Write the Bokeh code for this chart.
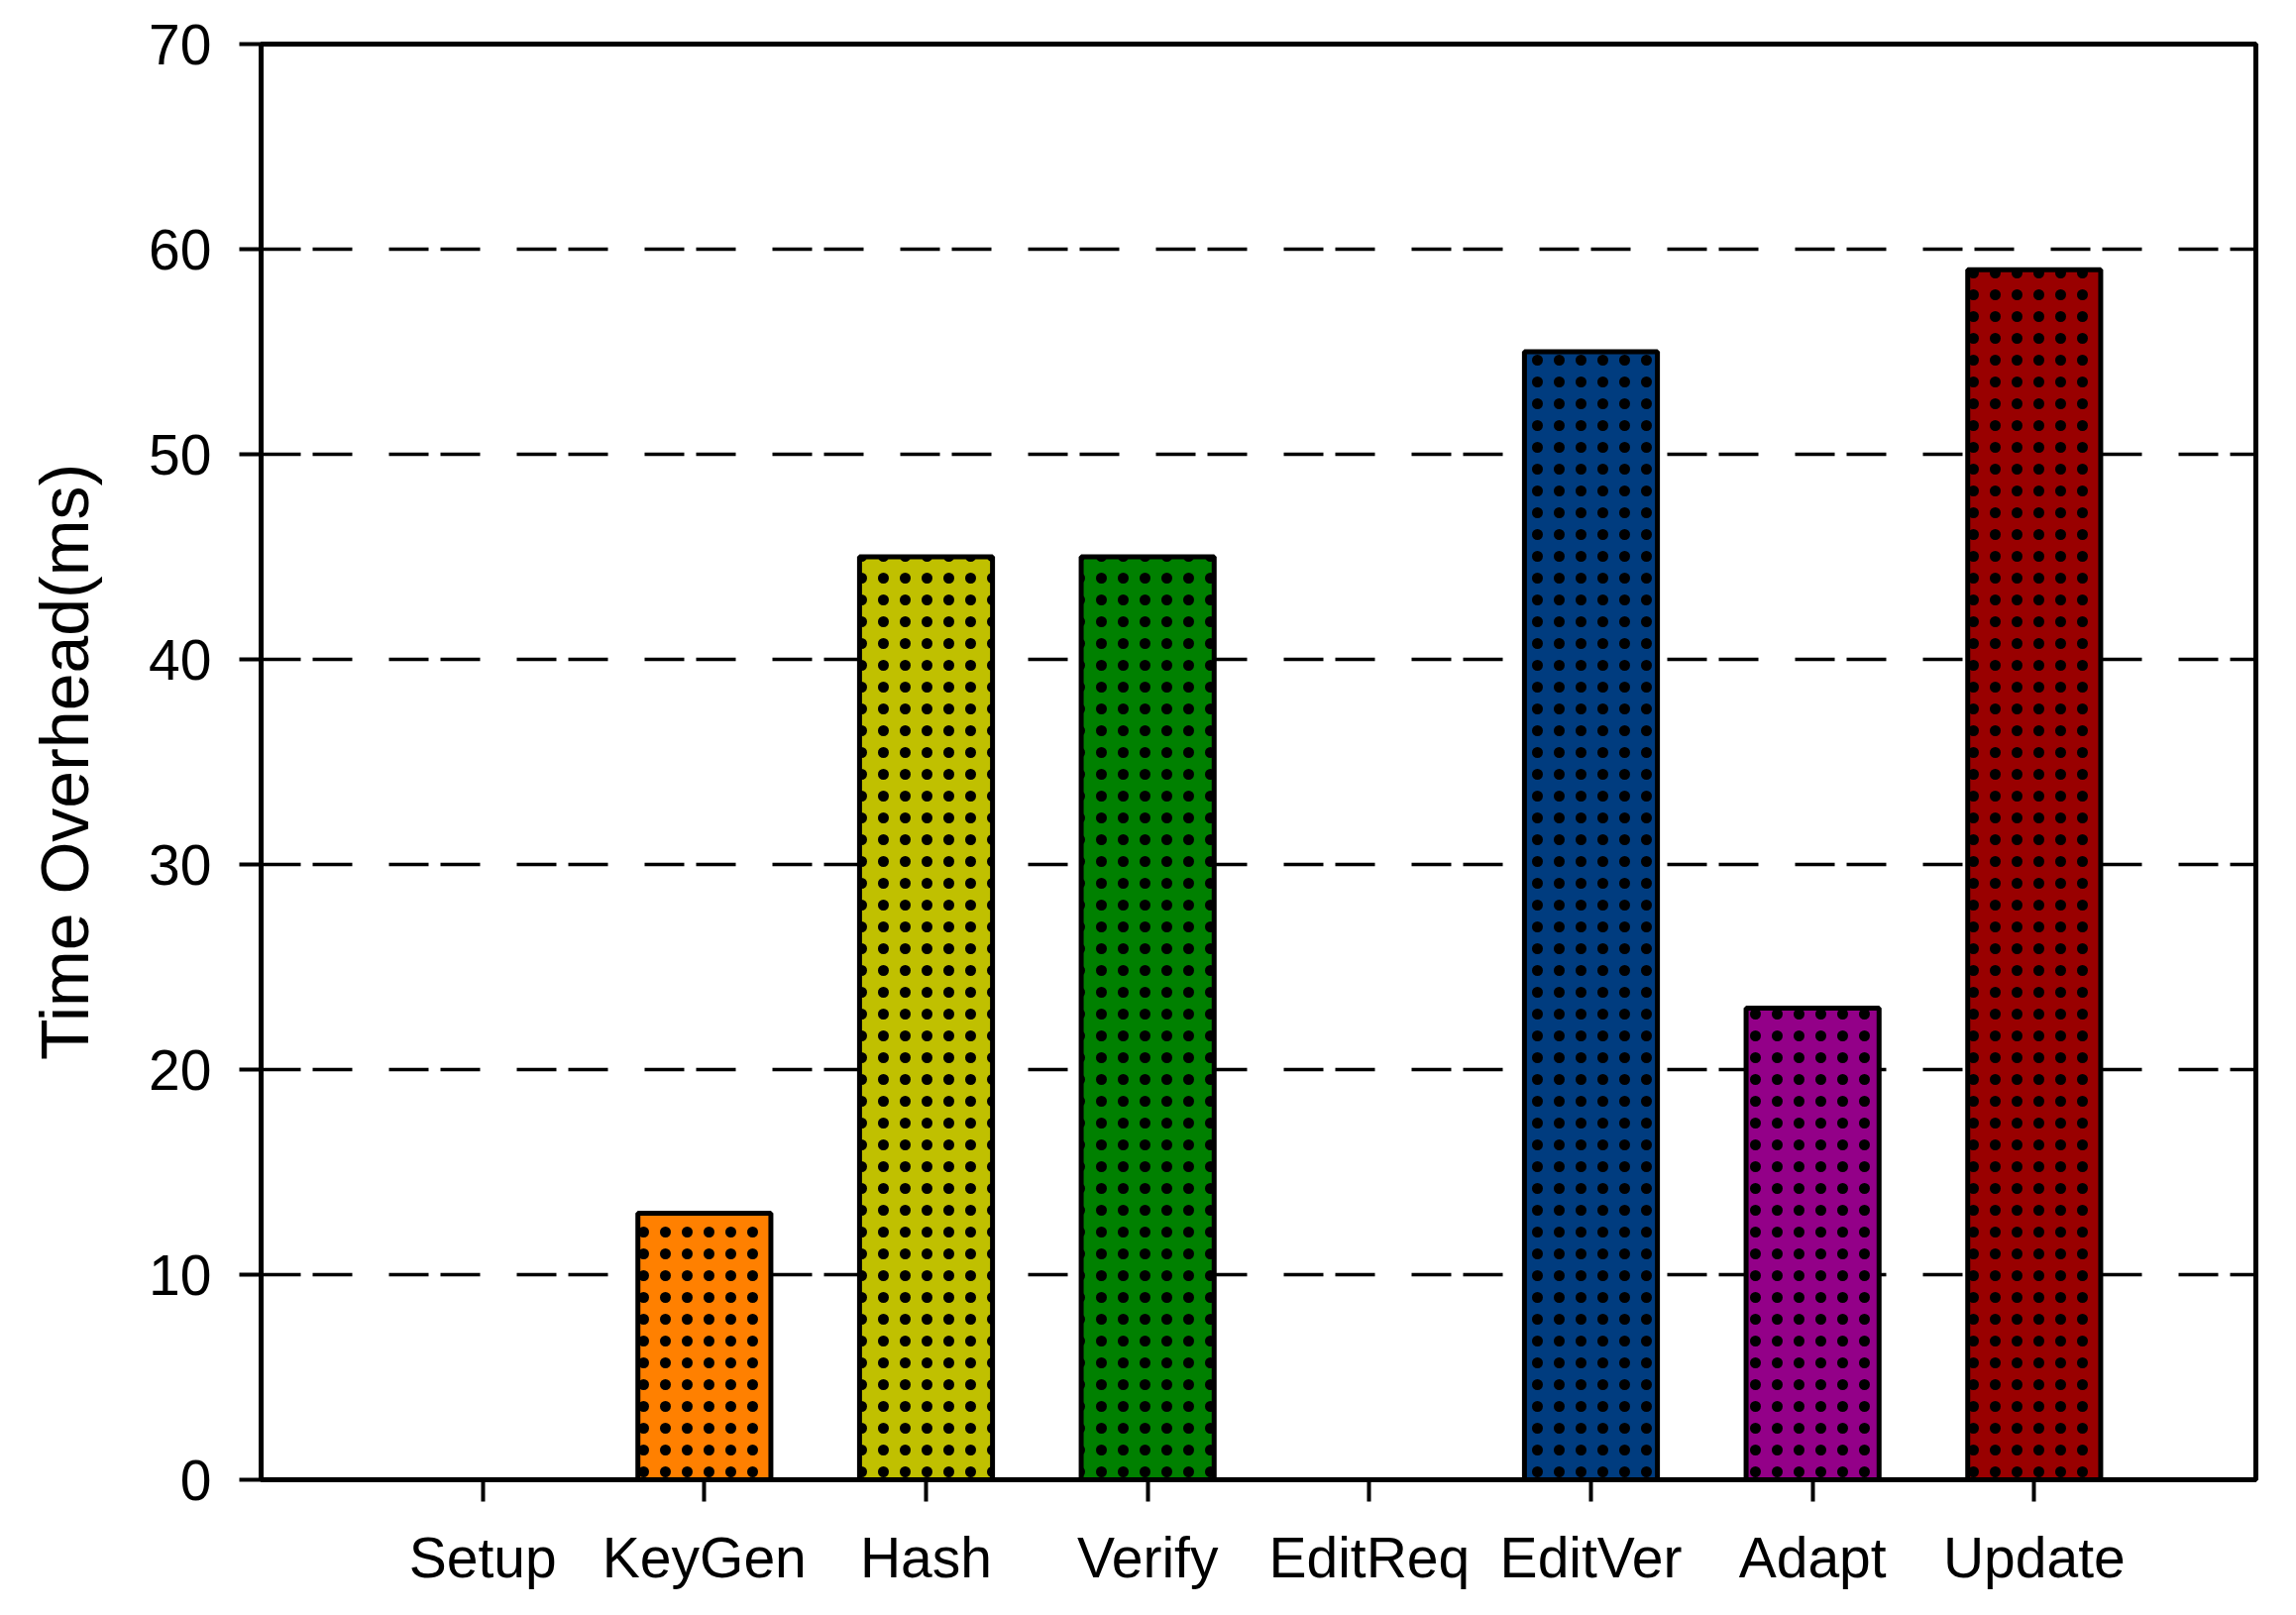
from bokeh.plotting import figure
from bokeh.models import Range1d, FixedTicker, ColumnDataSource
from bokeh.embed import file_html
from bokeh.resources import INLINE

categories = ["Setup", "KeyGen", "Hash", "Verify", "EditReq", "EditVer", "Adapt", "Update"]
values = [0, 13, 45, 45, 0, 55, 23, 59]
colors = ["#FFFFFF", "#FF8000", "#C0C000", "#008000", "#FFFFFF", "#003C7F", "#930088", "#990000"]
y_ticks = [0, 10, 20, 30, 40, 50, 60, 70]

xs = [i + 1 for i in range(len(categories))]
src = ColumnDataSource(dict(x=xs, top=values, color=colors))

p = figure(width=2300, height=1614, output_backend="svg", toolbar_location=None,
           x_range=Range1d(0, len(categories) + 1), y_range=Range1d(0, 70),
           min_border_left=263, min_border_top=44, min_border_right=24, min_border_bottom=121)

p.vbar(x="x", top="top", bottom=0, width=0.6, source=src, fill_color="color",
       line_color="black", line_width=5,
       hatch_pattern="dot", hatch_color="black", hatch_scale=22, hatch_weight=2)

p.outline_line_color = "black"
p.outline_line_width = 5
p.outline_line_alpha = 1

p.xgrid.grid_line_color = None
p.ygrid.grid_line_color = "black"
p.ygrid.grid_line_width = 3.5
p.ygrid.grid_line_dash = "40 12 40 37"
p.ygrid.level = "underlay"

p.xaxis.ticker = FixedTicker(ticks=xs)
p.xaxis.major_label_overrides = {x: c for x, c in zip(xs, categories)}
p.yaxis.ticker = FixedTicker(ticks=y_ticks)
p.yaxis.axis_label = "Time Overhead(ms)"

for ax in (p.xaxis[0], p.yaxis[0]):
    ax.axis_line_color = "black"
    ax.axis_line_width = 5
    ax.major_tick_line_color = "black"
    ax.major_tick_line_width = 4
    ax.major_tick_out = 22
    ax.major_tick_in = 0
    ax.minor_tick_line_color = None
    ax.major_label_text_font = "Liberation Sans"
    ax.major_label_text_font_size = "57px"
    ax.major_label_text_color = "black"

p.xaxis.major_label_standoff = 24
p.yaxis.major_label_standoff = 28
p.yaxis.axis_label_text_font = "Liberation Sans"
p.yaxis.axis_label_text_font_size = "68px"
p.yaxis.axis_label_text_font_style = "normal"
p.yaxis.axis_label_text_color = "black"
p.yaxis.axis_label_standoff = 44

open("out.html", "w").write(file_html(p, INLINE))
